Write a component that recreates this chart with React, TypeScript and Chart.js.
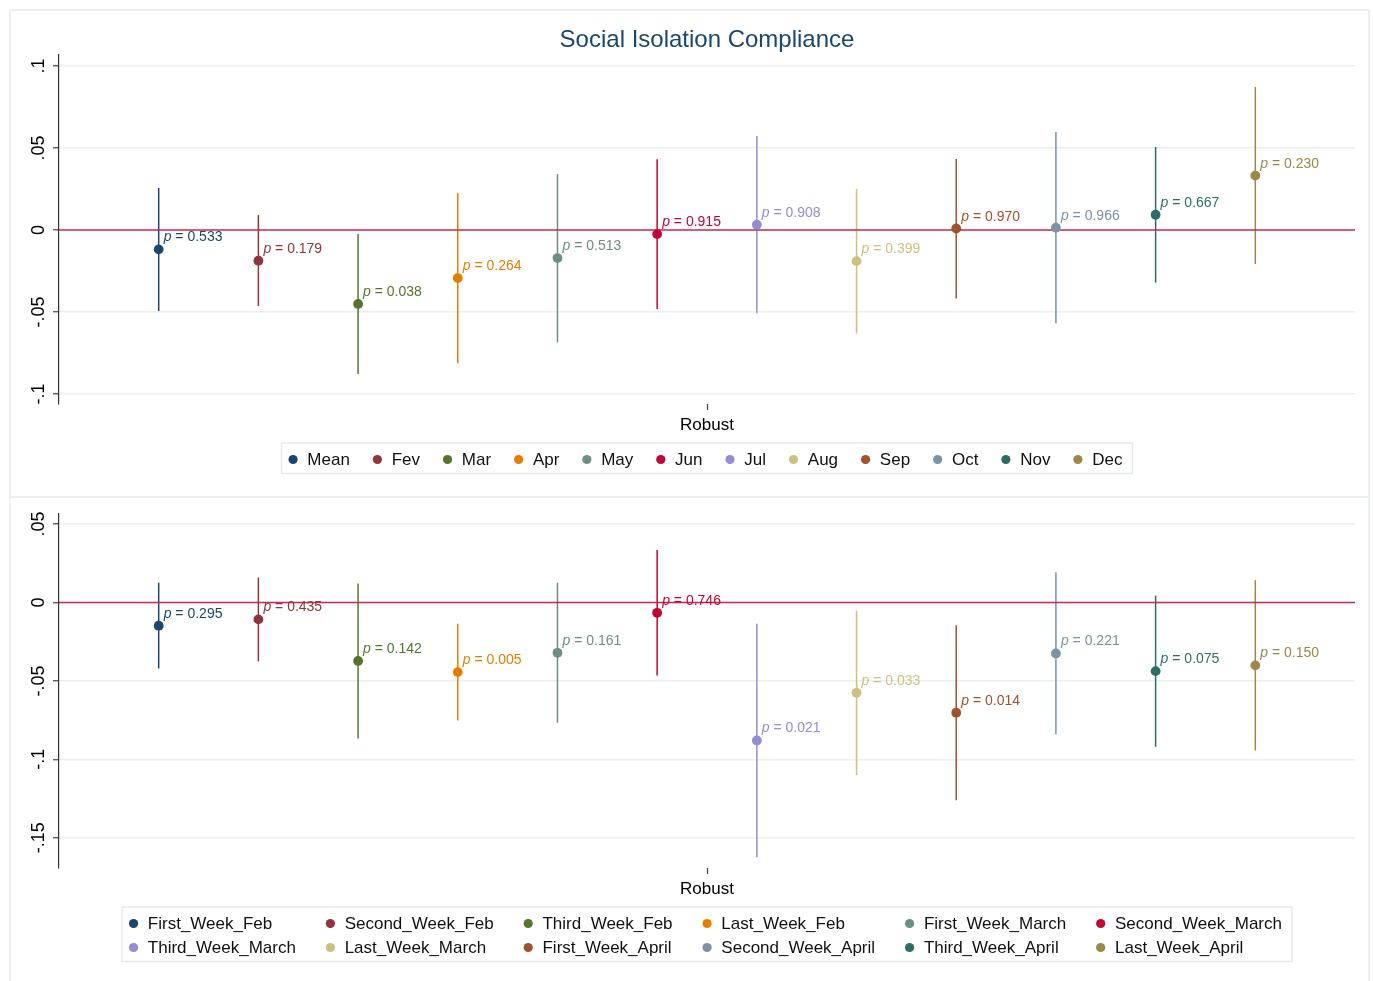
import React, { useEffect, useRef } from "react";
import { Chart, registerables } from "chart.js";

Chart.register(...registerables);

const FONT = '"Liberation Sans", Arial, Helvetica, sans-serif';

// ---------- data ----------
const titleText = "Social Isolation Compliance";
const xCategory = "Robust";

const seriesColors = [
  "#1a476f", "#90353b", "#55752f", "#e37e00", "#6e8e84", "#c10534",
  "#938dd2", "#cac27e", "#a0522d", "#7b92a8", "#2d6d66", "#9c8847",
];
const zeroLineColor = "#cc2a52";

const monthNames = ["Mean", "Fev", "Mar", "Apr", "May", "Jun", "Jul", "Aug", "Sep", "Oct", "Nov", "Dec"];
const monthEstimates = [-0.0118, -0.0187, -0.0451, -0.0293, -0.0171, -0.0025, 0.0032, -0.0190, 0.0009, 0.0014, 0.0093, 0.0332];
const monthCILow = [-0.0494, -0.0463, -0.0878, -0.0813, -0.0685, -0.0482, -0.0508, -0.0632, -0.0417, -0.0569, -0.0321, -0.0207];
const monthCIHigh = [0.0256, 0.0091, -0.0024, 0.0226, 0.0341, 0.0431, 0.0573, 0.0250, 0.0433, 0.0598, 0.0506, 0.0872];
const monthPValues = ["0.533", "0.179", "0.038", "0.264", "0.513", "0.915", "0.908", "0.399", "0.970", "0.966", "0.667", "0.230"];
const monthYTicks = [-0.1, -0.05, 0, 0.05, 0.1];
const monthYMin = -0.1061;
const monthYMax = 0.1067;

const weekNames = [
  "First_Week_Feb", "Second_Week_Feb", "Third_Week_Feb", "Last_Week_Feb",
  "First_Week_March", "Second_Week_March", "Third_Week_March", "Last_Week_March",
  "First_Week_April", "Second_Week_April", "Third_Week_April", "Last_Week_April",
];
const weekEstimates = [-0.0148, -0.0108, -0.0373, -0.0444, -0.0321, -0.0066, -0.0880, -0.0576, -0.0703, -0.0325, -0.0438, -0.0401];
const weekCILow = [-0.0421, -0.0376, -0.0867, -0.0753, -0.0767, -0.0466, -0.1624, -0.1101, -0.1261, -0.0842, -0.0920, -0.0944];
const weekCIHigh = [0.0126, 0.0159, 0.0121, -0.0136, 0.0126, 0.0334, -0.0136, -0.0051, -0.0145, 0.0193, 0.0043, 0.0142];
const weekPValues = ["0.295", "0.435", "0.142", "0.005", "0.161", "0.746", "0.021", "0.033", "0.014", "0.221", "0.075", "0.150"];
const weekYTicks = [-0.15, -0.1, -0.05, 0, 0.05];
const weekYMin = -0.1693;
const weekYMax = 0.0564;

// ---------- helpers ----------
function fmtTick(v: number): string {
  if (Math.abs(v) < 1e-9) return "0";
  const s = String(Math.round(v * 1000) / 1000);
  return s.replace(/^(-?)0\./, "$1.");
}

interface PanelCfg {
  names: string[];
  est: number[];
  lo: number[];
  hi: number[];
  p: string[];
  yTicks: number[];
  yMin: number;
  yMax: number;
  title?: string;
  height: number;
  padTop: number;
  xAxisH: number;
  legendCols: number;
  legendGap: number;
}

function makeChart(canvas: HTMLCanvasElement, cfg: PanelCfg) {
  const n = cfg.names.length;
  const datasets: any[] = [];
  cfg.names.forEach((name, i) => {
    datasets.push({
      type: "line",
      label: name + " CI",
      data: [{ x: i + 1, y: cfg.lo[i] }, { x: i + 1, y: cfg.hi[i] }],
      borderColor: seriesColors[i],
      borderWidth: 1.5,
      pointRadius: 0,
      showLine: true,
      fill: false,
      order: 3,
    });
  });
  datasets.push({
    type: "line",
    label: "zero",
    data: [{ x: 0, y: 0 }, { x: n + 1, y: 0 }],
    borderColor: zeroLineColor,
    borderWidth: 1.5,
    pointRadius: 0,
    showLine: true,
    fill: false,
    order: 2,
  });
  cfg.names.forEach((name, i) => {
    datasets.push({
      type: "scatter",
      label: name,
      data: [{ x: i + 1, y: cfg.est[i] }],
      backgroundColor: seriesColors[i],
      borderColor: seriesColors[i],
      borderWidth: 0,
      pointRadius: 4.9,
      order: 1,
    });
  });

  const pLabelPlugin = {
    id: "pLabels",
    afterDatasetsDraw(chart: any) {
      const { ctx, scales } = chart;
      ctx.save();
      ctx.textAlign = "left";
      ctx.textBaseline = "alphabetic";
      cfg.names.forEach((_, i) => {
        const px = scales.x.getPixelForValue(i + 1);
        const py = scales.y.getPixelForValue(cfg.est[i]);
        const tx = px + 5;
        const ty = py - 8;
        ctx.fillStyle = seriesColors[i];
        ctx.font = `italic 14px ${FONT}`;
        ctx.fillText("p", tx, ty);
        const w = ctx.measureText("p").width;
        ctx.font = `14px ${FONT}`;
        ctx.fillText(` = ${cfg.p[i]}`, tx + w, ty);
      });
      ctx.restore();
    },
  };

  const legendPlugin = {
    id: "boxLegend",
    afterDraw(chart: any) {
      const { ctx, chartArea: ca } = chart;
      ctx.save();
      ctx.font = `17px ${FONT}`;
      const cols = cfg.legendCols;
      const rows = Math.ceil(n / cols);
      const colText: number[] = [];
      for (let c = 0; c < cols; c++) {
        let m = 0;
        for (let r = 0; r < rows; r++) {
          const idx = r * cols + c;
          if (idx < n) m = Math.max(m, ctx.measureText(cfg.names[idx]).width);
        }
        colText.push(m);
      }
      const textOff = 18.8;
      const colW = colText.map((t) => textOff + t);
      const total = colW.reduce((a, b) => a + b, 0) + cfg.legendGap * (cols - 1);
      const padL = 7;
      const padR = 10;
      const boxW = total + padL + padR;
      const cx = (ca.left + ca.right) / 2;
      const boxX = cx - boxW / 2;
      const contentX = boxX + padL;
      const row0 = ca.bottom + 55.5;
      const rowStep = 24;
      const boxTop = ca.bottom + 39;
      const boxBottom = row0 + (rows - 1) * rowStep + 14;
      ctx.strokeStyle = "#e4ebee";
      ctx.lineWidth = 1.5;
      ctx.strokeRect(boxX, boxTop, boxW, boxBottom - boxTop);
      ctx.textBaseline = "middle";
      ctx.textAlign = "left";
      for (let idx = 0; idx < n; idx++) {
        const r = Math.floor(idx / cols);
        const c = idx % cols;
        let x = contentX;
        for (let k = 0; k < c; k++) x += colW[k] + cfg.legendGap;
        const y = row0 + r * rowStep;
        ctx.fillStyle = seriesColors[idx];
        ctx.beginPath();
        ctx.arc(x + 4.5, y, 4.6, 0, Math.PI * 2);
        ctx.fill();
        ctx.fillStyle = "#111";
        ctx.fillText(cfg.names[idx], x + textOff, y + 0.5);
      }
      ctx.restore();
    },
  };

  return new Chart(canvas, {
    type: "scatter",
    data: { datasets },
    plugins: [pLabelPlugin, legendPlugin],
    options: {
      responsive: false,
      animation: false,
      devicePixelRatio: 1,
      events: [],
      layout: { padding: { left: 0, right: 18, top: cfg.padTop, bottom: 0 } },
      plugins: {
        legend: { display: false },
        tooltip: { enabled: false },
        title: cfg.title
          ? {
              display: true,
              text: cfg.title,
              color: "#1a476f",
              font: { family: FONT, size: 24, weight: "normal", lineHeight: 1.2 },
              padding: { top: 26, bottom: 0.2 },
              fullSize: false,
            }
          : { display: false },
      },
      scales: {
        x: {
          type: "linear",
          position: "bottom",
          min: 0,
          max: n + 1,
          afterBuildTicks: (s: any) => {
            s.ticks = [{ value: (n + 1) / 2 }];
          },
          ticks: {
            callback: () => xCategory,
            autoSkip: false,
            maxRotation: 0,
            minRotation: 0,
            padding: 5,
            color: "#000",
            font: { family: FONT, size: 17 },
          },
          grid: { drawOnChartArea: false, drawTicks: true, tickLength: 6, tickColor: "#444", tickWidth: 1.2 },
          border: { display: false },
          afterFit: (s: any) => {
            s.height = cfg.xAxisH;
          },
        },
        y: {
          type: "linear",
          min: cfg.yMin,
          max: cfg.yMax,
          afterBuildTicks: (s: any) => {
            s.ticks = cfg.yTicks.map((v) => ({ value: v }));
          },
          ticks: {
            callback: (v: any) => fmtTick(Number(v)),
            autoSkip: false,
            minRotation: 90,
            maxRotation: 90,
            crossAlign: "center",
            padding: -2,
            color: "#000",
            font: { family: FONT, size: 18 },
          },
          grid: { color: "#e9eff1", lineWidth: 1.5, tickColor: "#444", tickLength: 6, tickWidth: 1.2 },
          border: { display: true, color: "#333", width: 1.2 },
          afterFit: (s: any) => {
            s.width = 59;
          },
        },
      },
    } as any,
  });
}

const monthPanel: PanelCfg = {
  names: monthNames,
  est: monthEstimates,
  lo: monthCILow,
  hi: monthCIHigh,
  p: monthPValues,
  yTicks: monthYTicks,
  yMin: monthYMin,
  yMax: monthYMax,
  title: titleText,
  height: 497,
  padTop: 0,
  xAxisH: 93,
  legendCols: 12,
  legendGap: 23,
};

const weekPanel: PanelCfg = {
  names: weekNames,
  est: weekEstimates,
  lo: weekCILow,
  hi: weekCIHigh,
  p: weekPValues,
  yTicks: weekYTicks,
  yMin: weekYMin,
  yMax: weekYMax,
  height: 484,
  padTop: 17,
  xAxisH: 113,
  legendCols: 6,
  legendGap: 30,
};

function Panel({ cfg, top }: { cfg: PanelCfg; top: number }) {
  const ref = useRef<HTMLCanvasElement>(null);
  useEffect(() => {
    if (!ref.current) return;
    const chart = makeChart(ref.current, cfg);
    return () => chart.destroy();
  }, [cfg]);
  return (
    <canvas
      ref={ref}
      width={1373}
      height={cfg.height}
      style={{ position: "absolute", left: 0, top, width: 1373, height: cfg.height, display: "block" }}
    />
  );
}

export default function App() {
  const borderColor = "#e9eff2";
  return (
    <div
      style={{
        position: "absolute",
        left: 0,
        top: 0,
        width: 1373,
        height: 981,
        overflow: "hidden",
        background: "#ffffff",
      }}
    >
      <div
        style={{
          position: "absolute",
          left: 9,
          top: 9,
          width: 1361,
          height: 489,
          border: `2px solid ${borderColor}`,
          boxSizing: "border-box",
        }}
      />
      <div
        style={{
          position: "absolute",
          left: 9,
          top: 496,
          width: 1361,
          height: 495,
          border: `2px solid ${borderColor}`,
          boxSizing: "border-box",
        }}
      />
      <Panel cfg={monthPanel} top={0} />
      <Panel cfg={weekPanel} top={497} />
    </div>
  );
}
